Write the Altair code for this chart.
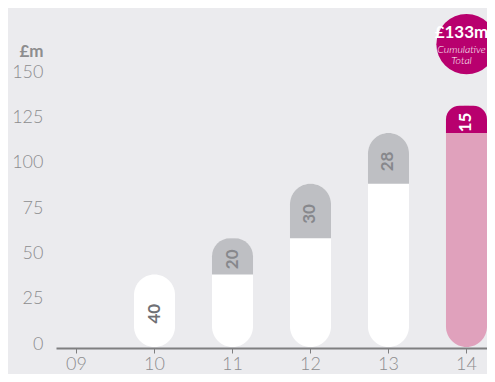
import altair as alt
import pandas as pd

years = ["09", "10", "11", "12", "13", "14"]
totals = [0, 40, 60, 90, 118, 133]
increments = [0, 40, 20, 30, 28, 15]
bar_fill = ["#ffffff", "#ffffff", "#ffffff", "#ffffff", "#ffffff", "#e0a1bc"]
top_fill = ["#bebfc3", "#ffffff", "#bebfc3", "#bebfc3", "#bebfc3", "#b8006e"]
label_color = ["#87888c", "#6f7074", "#87888c", "#87888c", "#87888c", "#ffffff"]

callout_value = ["£133m"]
callout_sub = ["Cumulative", "Total"]
callout_year = ["14"]
callout_level = [167]

df = pd.DataFrame({
    "year": years,
    "total": totals,
    "inc": increments,
    "fill": bar_fill,
    "topfill": top_fill,
    "lcolor": label_color,
})
df["base"] = df["total"] - df["inc"]
df["mid"] = (df["base"] + df["total"]) / 2
df["label"] = df["inc"].astype(str)

FONT = "Lato"
GREY = "#8d8d8f"

x_enc = alt.X(
    "year:N",
    sort=years,
    scale=alt.Scale(domain=years, paddingInner=0.474, paddingOuter=0),
    axis=alt.Axis(
        title=None, labelAngle=0, labelFontSize=18, labelColor=GREY, labelFont=FONT,
        labelFontWeight=300, domainColor="#7f7f80", domainWidth=2, tickColor="#7f7f80",
        tickSize=5, tickWidth=1, labelPadding=2, offset=1,
    ),
)
y_scale = alt.Scale(domain=[0, 150], nice=False)

base = alt.Chart(df)

pill = base.transform_filter("datum.total > 0").mark_bar(
    cornerRadius=20.5
).encode(
    x=x_enc,
    y=alt.Y(
        "total:Q", scale=y_scale,
        axis=alt.Axis(
            values=[0, 25, 50, 75, 100, 125, 150], grid=False, domain=False, ticks=False,
            labelFontSize=18, labelColor=GREY, labelFont=FONT, labelFontWeight=300,
            labelPadding=13, labelOffset=-3,
            title="£m", titleAngle=0, titleX=-13, titleY=-24, titleAlign="right",
            titleBaseline="middle", titleFontSize=17, titleFont=FONT, titleColor=GREY,
            titleFontWeight="bold",
        ),
    ),
    y2=alt.Y2(datum=0),
    fill=alt.Fill("fill:N", scale=None),
)

tops = base.transform_filter("datum.base > 0").mark_bar(
    cornerRadiusTopLeft=20.5, cornerRadiusTopRight=20.5
).encode(
    x=alt.X("year:N", sort=years),
    y=alt.Y("total:Q", scale=y_scale),
    y2="base:Q",
    fill=alt.Fill("topfill:N", scale=None),
)

labels = base.transform_filter("datum.inc > 0").mark_text(
    angle=270, fontSize=17, fontWeight="bold", font=FONT, baseline="middle", align="center",
    dx=-3
).encode(
    x=alt.X("year:N", sort=years),
    y=alt.Y("mid:Q", scale=y_scale),
    text="label:N",
    color=alt.Color("lcolor:N", scale=None),
)

cdf = pd.DataFrame({"year": callout_year, "level": callout_level, "t": callout_value})
circle = alt.Chart(cdf).mark_circle(size=3630, opacity=1, color="#b8006e").encode(
    x=alt.X("year:N", sort=years),
    y=alt.Y("level:Q", scale=y_scale),
)
ctext = alt.Chart(cdf).mark_text(
    fontSize=17, font=FONT, fontWeight="bold", color="white", dy=-11, dx=-5,
    baseline="middle"
).encode(
    x=alt.X("year:N", sort=years),
    y=alt.Y("level:Q", scale=y_scale),
    text="t:N",
)

sub_layers = []
for i, word in enumerate(callout_sub):
    sdf = pd.DataFrame({"year": callout_year, "level": callout_level, "t": [word]})
    sub_layers.append(
        alt.Chart(sdf).mark_text(
            fontSize=10.5, font=FONT, fontStyle="italic", fontWeight=300, color="white",
            baseline="middle", dy=6 + 11 * i, dx=-5
        ).encode(
            x=alt.X("year:N", sort=years),
            y=alt.Y("level:Q", scale=y_scale),
            text="t:N",
        )
    )

chart = alt.layer(pill, tops, labels, circle, ctext, *sub_layers).properties(
    width=431,
    height=272,
    background="#ebebee",
    padding={"left": 48, "top": 67, "right": 0, "bottom": 27},
    autosize=alt.AutoSizeParams(type="none"),
).configure_view(stroke=None)

chart.save("out.html", embed_options={"renderer": "svg", "actions": False})
